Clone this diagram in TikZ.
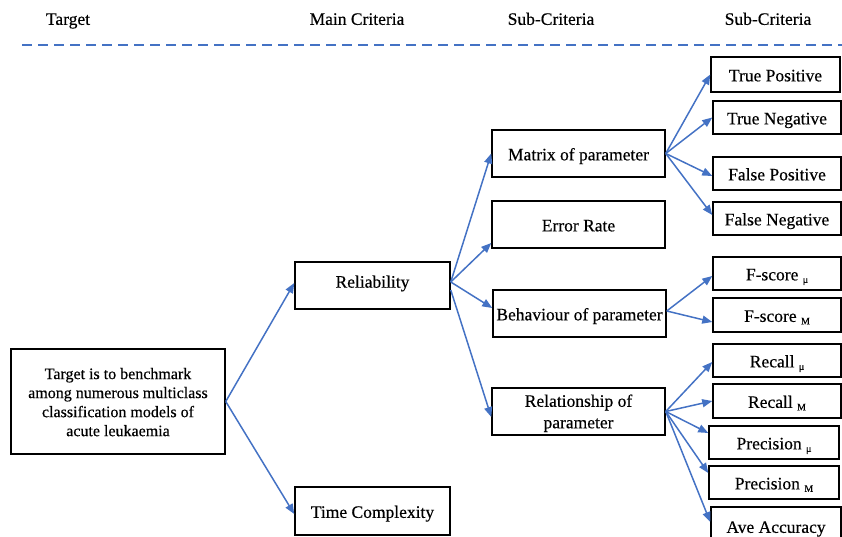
\documentclass[tikz,border=0pt]{standalone}
\usepackage{fontspec}
\setmainfont{Liberation Serif}[FakeBold=0.4]
\usetikzlibrary{arrows.meta}
\definecolor{linkblue}{HTML}{4472C4}
% small lowered index used for the micro / macro averages
\newcommand\avgidx[1]{\raisebox{-2.5pt}{\fontsize{10}{10}\selectfont #1}}
% centred multi-line label, nudged down a little inside its box
\newcommand\lines[2]{\raisebox{-2.5pt}[\height][\depth]{\fontsize{#1}{#1}\selectfont
  \renewcommand\arraystretch{1}\begin{tabular}{@{}c@{}}#2\end{tabular}}}

\begin{document}
\begin{tikzpicture}[x=1pt,y=-1pt,
  label text/.style={font=\fontsize{17.5}{21}\selectfont, text height=15.7pt, text depth=2pt},
  box/.style={draw=black, line width=1.5pt, rectangle, inner sep=0pt, label text},
  midbox/.style={box, minimum width=173pt, minimum height=47pt},
  leaf/.style={box, minimum width=128pt, minimum height=33pt},
  link/.style={draw=linkblue, line width=1.5pt, -{Triangle[length=10pt,width=8pt]}},
  head/.style={label text, inner sep=0pt}]
\useasboundingbox (0,0) rectangle (842,537);
\clip (0,0) rectangle (842,537);

% column headings and separator
\node[head] (h1) at (68,18) {Target};
\node[head] (h2) at (357,18) {Main Criteria};
\node[head] (h3) at (551,18) {Sub-Criteria};
\node[head] (h4) at (768,18) {Sub-Criteria};
\coordinate (sepL) at (22,45);
\coordinate (sepR) at (842,45);
\draw[linkblue, line width=2pt, dash pattern=on 10pt off 6pt] (sepL) -- (sepR);

% target
\node[draw=black, line width=1.5pt, inner sep=0pt, minimum width=214pt, minimum height=105pt]
  (tgt) at (118,401.5)
  {\baselineskip=19pt\lines{16}{\rule{0pt}{12pt}Target is to benchmark\\[3pt]among numerous multiclass\\[3pt]classification models of\\[3pt]acute leukaemia}};

% main criteria
\node[box, minimum width=155pt, minimum height=47pt, text height=12pt, text depth=7.7pt]
  (rel) at (372.5,285.5) {Reliability};
\node[box, minimum width=155pt, minimum height=48pt] (tc) at (372.5,511) {Time Complexity};

% sub-criteria
\node[midbox] (mat) at (578.5,153.5) {Matrix of parameter};
\node[midbox] (err) at (578.5,224.5) {Error Rate};
\node[midbox] (beh) at (579.5,313.5) {Behaviour of parameter};
\node[midbox, text height=, text depth=] (rsp) at (578.5,411.5)
  {\lines{17.5}{Relationship of\\[4pt]parameter}};

% second-level sub-criteria
\node[leaf, minimum width=129pt, minimum height=35pt] (tp) at (775.5,74.5) {True Positive};
\node[leaf] (tn) at (777,117.5) {True Negative};
\node[leaf] (fp) at (777,173.5) {False Positive};
\node[leaf] (fn) at (777,218.5) {False Negative};
\node[leaf] (fsu) at (777,273.5) {F-score \avgidx{μ}};
\node[leaf, minimum height=34pt] (fsm) at (777,315) {F-score \avgidx{M}};
\node[leaf] (rcu) at (777,360.5) {Recall \avgidx{μ}};
\node[leaf, minimum height=34pt] (rcm) at (777,401) {Recall \avgidx{M}};
\node[leaf, minimum width=130pt] (pru) at (774,442.5) {Precision \avgidx{μ}};
\node[leaf, minimum width=130pt] (prm) at (774,482.5) {Precision \avgidx{M}};
\node[leaf, minimum width=130pt, minimum height=38pt] (ave) at (776,526) {Ave Accuracy};

% connectors
\draw[link] (tgt.east) -- ([yshift=2.5pt]rel.west);
\draw[link] (tgt.east) -- ([yshift=-3pt]tc.west);

\draw[link] ([yshift=3.5pt]rel.east) -- (mat.west);
\draw[link] ([yshift=3.5pt]rel.east) -- ([yshift=-18.5pt]err.west);
\draw[link] ([yshift=3.5pt]rel.east) -- ([yshift=5.5pt]beh.west);
\draw[link] ([yshift=-4.5pt]rel.east) -- ([yshift=-5.5pt]rsp.west);

\draw[link] (mat.east) -- (tp.west);
\draw[link] (mat.east) -- (tn.west);
\draw[link] (mat.east) -- ([yshift=-2.5pt]fp.west);
\draw[link] (mat.east) -- ([yshift=3.5pt]fn.west);

\draw[link] ([yshift=2.5pt]beh.east) -- ([yshift=-2.5pt]fsu.west);
\draw[link] ([yshift=2.5pt]beh.east) -- ([yshift=-7pt]fsm.west);

\draw[link] (rsp.east) -- ([yshift=-1.5pt]rcu.west);
\draw[link] (rsp.east) -- (rcm.west);
\draw[link] (rsp.east) -- ([yshift=9.5pt]pru.west);
\draw[link] (rsp.east) -- ([yshift=9.5pt]prm.west);
\draw[link] (rsp.east) -- ([yshift=4pt]ave.west);
\end{tikzpicture}
\end{document}
